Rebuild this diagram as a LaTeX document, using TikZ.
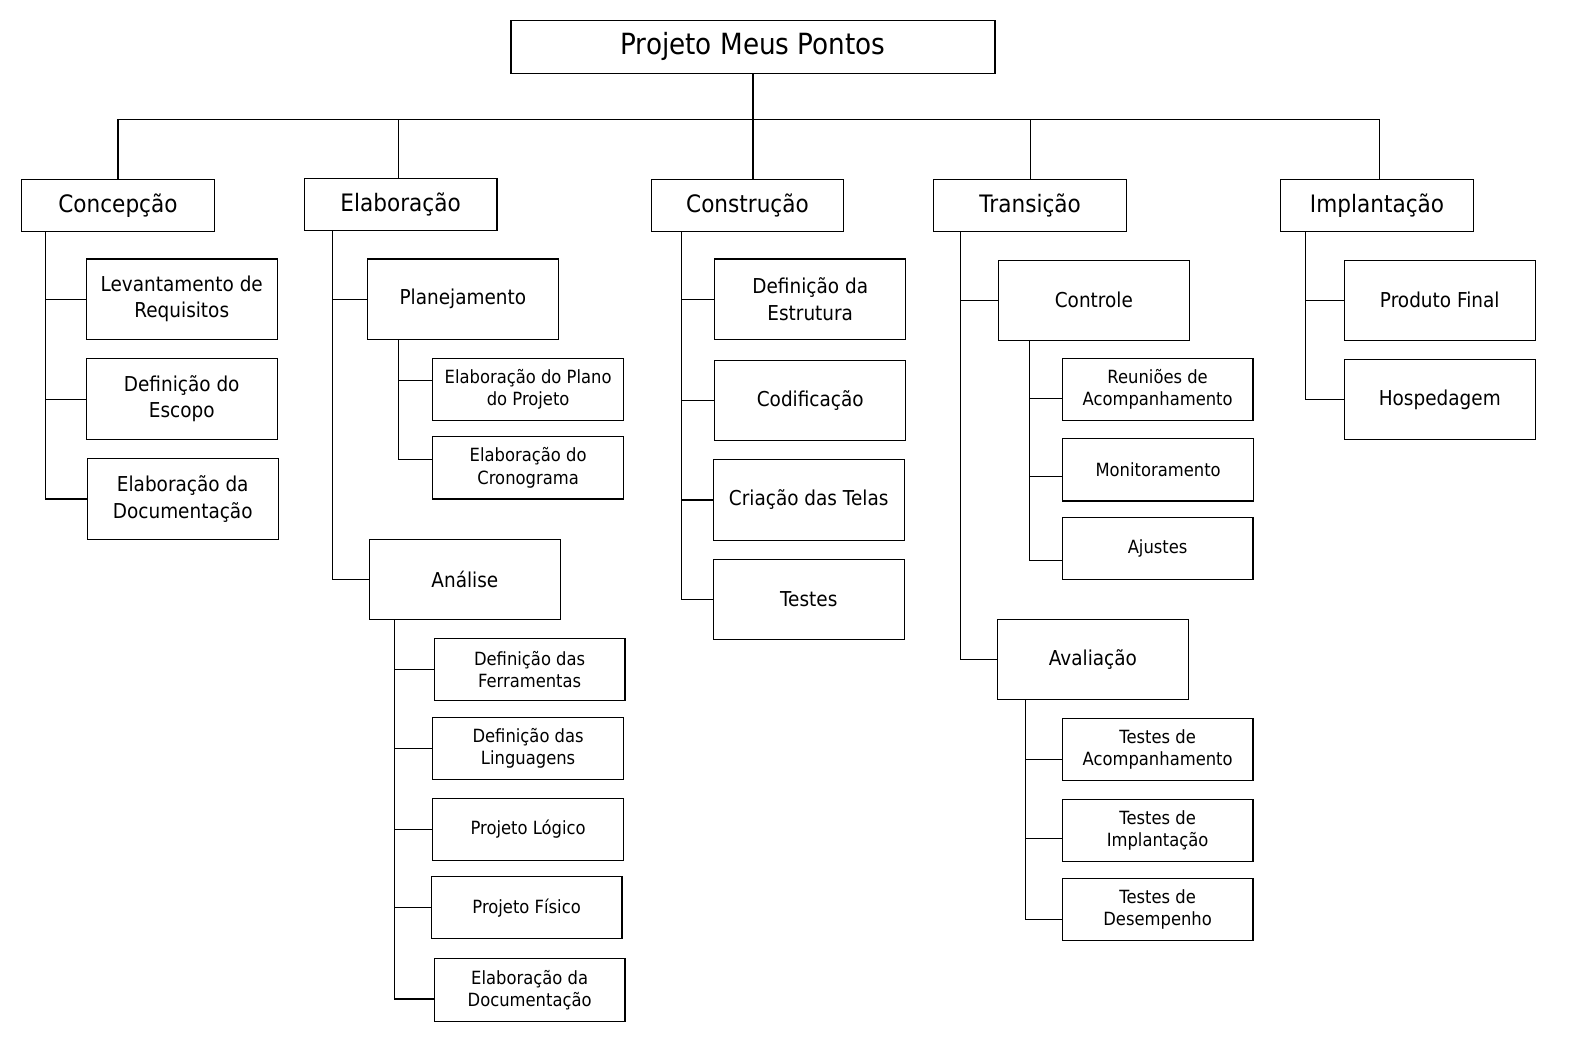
\documentclass[tikz,border=0pt]{standalone}
\usepackage{fontspec}
\setmainfont{DejaVu Sans}[FakeStretch=0.9]
\begin{document}
\begin{tikzpicture}[x=1.004pt,y=-1.004pt,
  every node/.style={inner sep=0pt,outer sep=0pt},
  titlebox/.style={draw,line width=1.1pt,minimum width=484pt,minimum height=53.2pt,font=\fontsize{29.2}{34}\selectfont},
  lone/.style={draw,line width=1.1pt,minimum width=192.8pt,minimum height=52.2pt,font=\fontsize{24}{28}\selectfont},
  ltwo/.style={draw,line width=1.1pt,minimum width=190.8pt,minimum height=80.3pt,align=center,font=\fontsize{20.5}{26.1}\selectfont},
  lthree/.style={draw,line width=1.1pt,minimum width=190.8pt,minimum height=62.2pt,align=center,font=\fontsize{18.2}{22.3}\selectfont},
  conn/.style={line width=1.1pt}]
\fill[white] (0,0) rectangle (1569.7,1051.8);
\useasboundingbox (0,0) rectangle (1569.7,1051.8);
% top
\node[titlebox] (title) at (750,46.5) {Projeto Meus Pontos};
\node[lone] (conc) at (117.5,205) {Concepção};
\node[lone] (elab) at (399,204) {Elaboração};
\node[lone] (cons) at (744.5,205) {Construção};
\node[lone] (tran) at (1026,205) {Transição};
\node[lone] (impl) at (1371.5,205) {Implantação};
\coordinate (bus) at (750,119);
\draw[conn] (title.south) -- (title.south |- bus);
\draw[conn] (conc.north) -- (conc.north |- bus) -- ([xshift=2.5pt]impl.north |- bus) -- ([xshift=2.5pt]impl.north);
\draw[conn] ([xshift=-2pt]elab.north) -- ([xshift=-2pt]elab.north |- bus);
\draw[conn] (cons.north -| title.south) -- (title.south |- bus);
\draw[conn] (tran.north) -- (tran.north |- bus);
% Concepcao
\node[ltwo] (lev) at (181,298) {Levantamento de\\Requisitos};
\node[ltwo] (esc) at (181,397.5) {Definição do\\Escopo};
\node[ltwo] (doc1) at (182,497) {Elaboração da\\Documentação};
\coordinate (tc) at ([xshift=24pt]conc.south west);
\draw[conn] (tc) |- (lev.west);
\draw[conn] (tc) |- (esc.west);
\draw[conn] (tc) |- (doc1.west);
% Elaboracao
\node[ltwo] (plan) at (461,298) {Planejamento};
\node[ltwo] (anal) at (463,577) {Análise};
\coordinate (te) at ([xshift=28pt]elab.south west);
\draw[conn] (te) |- (plan.west);
\draw[conn] (te) |- (anal.west);
\node[lthree] (pla) at (526,388) {Elaboração do Plano\\do Projeto};
\node[lthree] (cro) at (526,466) {Elaboração do\\Cronograma};
\coordinate (tp) at ([xshift=31pt]plan.south west);
\draw[conn] (tp) |- ([yshift=9.5pt]pla.west);
\draw[conn] (tp) |- ([yshift=8.5pt]cro.west);
\node[lthree] (fer) at (527.5,667) {Definição das\\Ferramentas};
\node[lthree] (lin) at (526,745.5) {Definição das\\Linguagens};
\node[lthree] (log) at (526,826) {Projeto Lógico};
\node[lthree] (fis) at (524.5,904) {Projeto Físico};
\node[lthree] (doc2) at (527.5,986) {Elaboração da\\Documentação};
\coordinate (ta) at ([xshift=25pt]anal.south west);
\foreach \n in {fer,lin,log,fis} \draw[conn] (ta) |- (\n.west);
\draw[conn] (ta) |- ([yshift=-9pt]doc2.west);
% Construcao
\node[ltwo] (est) at (807,298) {Definição da\\Estrutura};
\node[ltwo] (cod) at (807,399) {Codificação};
\node[ltwo] (tel) at (805.5,498) {Criação das Telas};
\node[ltwo] (tes) at (805.5,597) {Testes};
\coordinate (tk) at ([xshift=30pt]cons.south west);
\foreach \n in {est,cod,tel,tes} \draw[conn] (tk) |- (\n.west);
% Transicao
\node[ltwo] (ctl) at (1089.5,299) {Controle};
\node[ltwo] (ava) at (1088.5,657) {Avaliação};
\coordinate (tt) at ([xshift=27pt]tran.south west);
\draw[conn] (tt) |- (ctl.west);
\draw[conn] (tt) |- (ava.west);
\node[lthree] (reu) at (1153,388) {Reuniões de\\Acompanhamento};
\node[lthree] (mon) at (1153.5,468) {Monitoramento};
\node[lthree] (aju) at (1153,546.5) {Ajustes};
\coordinate (tc2) at ([xshift=31pt]ctl.south west);
\draw[conn] (tc2) |- ([yshift=-9pt]reu.west);
\draw[conn] (tc2) |- ([yshift=-7pt]mon.west);
\draw[conn] (tc2) |- ([yshift=-12pt]aju.west);
\node[lthree] (tac) at (1153,746.5) {Testes de\\Acompanhamento};
\node[lthree] (tim) at (1153,827) {Testes de\\Implantação};
\node[lthree] (tde) at (1153,906) {Testes de\\Desempenho};
\coordinate (tv) at ([xshift=28pt]ava.south west);
\draw[conn] (tv) |- ([yshift=-10pt]tac.west);
\draw[conn] (tv) |- ([yshift=-8.5pt]tim.west);
\draw[conn] (tv) |- ([yshift=-9.5pt]tde.west);
% Implantacao
\node[ltwo] (pro) at (1434,299) {Produto Final};
\node[ltwo] (hos) at (1434,398) {Hospedagem};
\coordinate (ti) at ([xshift=25pt]impl.south west);
\draw[conn] (ti) |- (pro.west);
\draw[conn] (ti) |- (hos.west);
\end{tikzpicture}
\end{document}
